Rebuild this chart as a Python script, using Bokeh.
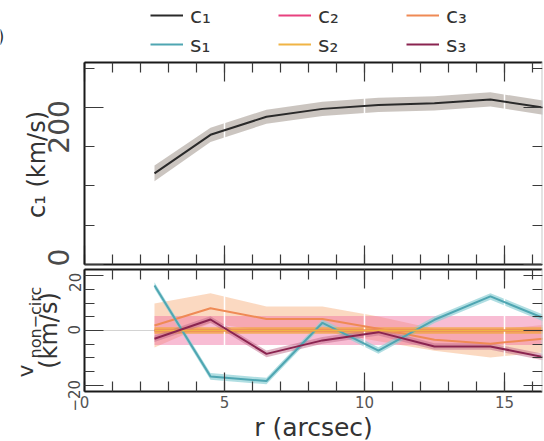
import math

from bokeh.embed import file_html
from bokeh.layouts import column
from bokeh.models import (BoxAnnotation, ColumnDataSource, FixedTicker, Grid,
                          Label, Legend, LegendItem, LinearAxis, Range1d)
from bokeh.plotting import figure
from bokeh.resources import INLINE

FONT = "DejaVu Sans"

# radial bins (arcsec)
r = [2.5, 4.5, 6.5, 8.5, 10.5, 12.5, 14.5, 16.5]

# harmonic coefficients (km/s) with 1-sigma uncertainties
c1 = [116, 165, 188, 198, 203, 205, 210, 199]
c1_err = [10, 9, 9, 9, 9, 9, 9, 9]
c2 = [0, 0, 0, 0, 0, 0, 0, 0]
c2_err = [5.3, 5.3, 5.3, 5.3, 5.3, 5.3, 5.3, 5.3]
c3 = [1.8, 8.1, 4.2, 4.2, 0.6, -3.4, -4.8, -2.9]
c3_err = [8.0, 5.5, 4.5, 4.5, 4.5, 4.0, 5.0, 5.0]
s1 = [16.4, -16.7, -18.4, 2.8, -7.3, 3.9, 12.4, 4.1]
s1_err = [1.2, 1.2, 1.2, 1.2, 1.2, 1.2, 1.2, 1.2]
s2 = [0, 0, 0, 0, 0, 0, 0, 0]
s2_err = [1.2, 1.2, 1.2, 1.2, 1.2, 1.2, 1.2, 1.2]
s3 = [-3.0, 4.0, -8.5, -3.6, -0.6, -5.8, -5.8, -9.9]
s3_err = [1.2, 1.2, 1.2, 1.2, 1.2, 1.2, 1.2, 1.2]

# ticks
x_major = [0, 5, 10, 15]
x_minor = [0, 1, 2, 3, 4, 5, 6, 7, 8, 9, 10, 11, 12, 13, 14, 15, 16, 17]
c1_major = [0, 200]
c1_minor = [0, 50, 100, 150, 200, 250]
v_major = [-20, 0, 20]
v_minor = [-20, -15, -10, -5, 0, 5, 10, 15, 20]

# rotated tick labels end a little above their ticks: anchor value -> text
c1_tick_text = {9: "0", 209: "200"}
v_tick_text = {-18: "\u221220", 2: "0", 21: "20"}

# name, values, errors, line colour, band colour, band alpha
series = {
    "c1": ("c\u2081", c1, c1_err, "#2a2a2a", "#a89f96", 0.6),
    "c2": ("c\u2082", c2, c2_err, "#e8417f", "#ef6d9f", 0.45),
    "c3": ("c\u2083", c3, c3_err, "#ef8a55", "#f7b98e", 0.55),
    "s1": ("s\u2081", s1, s1_err, "#4fa6b2", "#8fd0d6", 0.7),
    "s2": ("s\u2082", s2, s2_err, "#f0b445", "#f3a544", 0.8),
    "s3": ("s\u2083", s3, s3_err, "#8a2450", "#c06a8a", 0.5),
}

TEXT = "#333333"

# page geometry (pixels): each figure's frame fills its canvas, spines sit inside
W = 544
SPINE_L, SPINE_R = 84, 542
X_END = 16.36
PX_X = (SPINE_R - SPINE_L) / X_END
X_RANGE = (-SPINE_L / PX_X, X_END)


def y_window(v0, v1, spine_top, spine_bottom, canvas_h):
    per = (spine_bottom - spine_top) / (v1 - v0)
    return per, (v0 - (canvas_h - spine_bottom) / per, v1 + spine_top / per)


def frame_figure(canvas_h, y_rng):
    p = figure(frame_width=SPINE_R, frame_height=canvas_h,
               x_range=Range1d(*X_RANGE), y_range=Range1d(*y_rng),
               x_axis_location=None, y_axis_location=None,
               output_backend="svg", toolbar_location=None,
               min_border_left=0, min_border_right=W - SPINE_R,
               min_border_top=0, min_border_bottom=0)
    p.center = [c for c in p.center if not isinstance(c, Grid)]
    p.outline_line_color = None
    p.background_fill_color = "white"
    p.border_fill_color = "white"
    return p


def spine(p, side, at, bounds, ticks, minor):
    """Box edge with inward ticks and no labels."""
    ax = LinearAxis(ticker=FixedTicker(ticks=ticks, minor_ticks=minor),
                    fixed_location=at, bounds=bounds)
    ax.axis_line_width = 2
    ax.axis_line_color = "#c8c8c8" if side == "right" else "#1a1a1a"
    ax.major_tick_in = 19
    ax.major_tick_out = 0
    ax.minor_tick_in = 10
    ax.minor_tick_out = 0
    ax.major_tick_line_color = "#3a3a3a"
    ax.minor_tick_line_color = "#3a3a3a"
    ax.major_tick_line_width = 1.2
    ax.minor_tick_line_width = 1.2
    ax.major_label_text_font = FONT
    ax.major_label_text_color = "#555555"
    ax.major_label_overrides = {t: "" for t in ticks}
    ax.major_label_text_font_size = "1px"
    ax.major_label_standoff = 0
    ax.axis_label_text_font = FONT
    ax.axis_label_text_font_style = "normal"
    ax.axis_label_text_color = TEXT
    p.add_layout(ax, side)
    return ax


def box(p, y0, y1, y_major, y_minor):
    xb = (0, X_END)
    yb = (y0, y1)
    axes = {
        "below": spine(p, "below", y0, xb, x_major, x_minor),
        "above": spine(p, "above", y1, xb, x_major, x_minor),
        "left": spine(p, "left", 0, yb, y_major, y_minor),
        "right": spine(p, "right", X_END, yb, y_major, y_minor),
    }
    p.add_layout(Grid(dimension=0, ticker=FixedTicker(ticks=x_major),
                      bounds=yb, grid_line_color="white",
                      grid_line_width=1.5))
    return axes


def label_axis(p, tick_text, size, standoff):
    """Left axis carrying only the rotated tick labels."""
    ticks = sorted(tick_text)
    ax = LinearAxis(ticker=FixedTicker(ticks=ticks, minor_ticks=[]),
                    fixed_location=0)
    ax.axis_line_color = None
    ax.major_tick_line_color = None
    ax.minor_tick_line_color = None
    ax.major_tick_in = 0
    ax.major_tick_out = 0
    ax.minor_tick_in = 0
    ax.minor_tick_out = 0
    ax.major_label_overrides = dict(tick_text)
    ax.major_label_orientation = math.pi / 2
    ax.major_label_text_font = FONT
    ax.major_label_text_font_size = size
    ax.major_label_text_color = "#4a4a4a"
    ax.major_label_standoff = standoff
    p.add_layout(ax, "left")
    return ax


def draw_band(p, key):
    name, vals, errs, color, band, alpha = series[key]
    lo = [v - e for v, e in zip(vals, errs)]
    hi = [v + e for v, e in zip(vals, errs)]
    src = ColumnDataSource(dict(r=r, v=vals, lo=lo, hi=hi))
    p.varea(x="r", y1="lo", y2="hi", source=src, fill_color=band,
            fill_alpha=alpha, level="image")
    return src


def text(p, x_px, y_px, per, y_rng, s, size, align, baseline, angle=0.0):
    """Place a text at a pixel position of a full-canvas frame."""
    x = X_RANGE[0] + x_px / PX_X
    y = y_rng[1] - y_px / per
    p.add_layout(Label(x=x, y=y, text=s, angle=angle, text_align=align,
                       text_baseline=baseline, text_font=FONT,
                       text_font_size=size, text_color=TEXT))


# ---------------- upper panel: circular velocity ----------------
TOP_H = 266
top_per, top_y = y_window(0, 257, 62, 264, TOP_H)
top = frame_figure(TOP_H, top_y)
box(top, 0, 257, c1_major, c1_minor)
label_axis(top, c1_tick_text, "28px", 26)
text(top, 36, 164, top_per, top_y, "c\u2081 (km/s)", "24px", "center",
     "middle", math.pi / 2)

src_c1 = draw_band(top, "c1")
c1_line = top.line("r", "v", source=src_c1, line_color=series["c1"][3],
                   line_width=2)

# legend: c1 uses its drawn line, the other terms hidden stand-ins
legend_items = [LegendItem(label=series["c1"][0], renderers=[c1_line])]
for key in ("c2", "c3", "s1", "s2", "s3"):
    stand_in = top.line(x=r, y=series[key][1], line_color=series[key][3],
                        line_width=2, visible=False)
    legend_items.append(LegendItem(label=series[key][0], renderers=[stand_in]))
top.add_layout(Legend(items=legend_items, location=(150, TOP_H - 57),
                      orientation="horizontal", ncols=3,
                      padding=0, margin=0, spacing=3,
                      glyph_width=33, glyph_height=26,
                      label_height=26, label_width=85, label_standoff=7,
                      label_text_font=FONT, label_text_font_size="22px",
                      label_text_color=TEXT, inactive_fill_alpha=0,
                      border_line_color=None, background_fill_alpha=0),
               "center")

# panel tag, mostly beyond the left edge
text(top, 4, 36, top_per, top_y, "(b)", "17px", "right", "alphabetic")

# ---------------- lower panel: non-circular terms ----------------
BOT_H = 175
bot_per, bot_y = y_window(-22.2, 22.2, 3, 125, BOT_H)
bot = frame_figure(BOT_H, bot_y)
ax_bot = box(bot, -22.2, 22.2, v_major, v_minor)
label_axis(bot, v_tick_text, "15px", 10)

xb = ax_bot["below"]
xb.major_label_overrides = {}
xb.major_label_text_font_size = "15px"
xb.major_label_standoff = 4
xb.axis_label = "r (arcsec)"
xb.axis_label_text_font_size = "25px"
xb.axis_label_standoff = 2

# zero reference line across the panel
bot.add_layout(BoxAnnotation(left=0, right=X_END, bottom=-0.12, top=0.12,
                             fill_color="#a8a8a8", fill_alpha=1,
                             line_color=None, level="image"))

sources = {}
for key in ("c3", "c2", "s1", "s2", "s3"):
    sources[key] = draw_band(bot, key)
for key in ("c2", "c3", "s1", "s2", "s3"):
    bot.line("r", "v", source=sources[key], line_color=series[key][3],
             line_width=2)

# two-line y title: v with a "non-circ" subscript, then the unit
text(bot, 25, 111, bot_per, bot_y, "v", "22px", "left", "alphabetic",
     math.pi / 2)
text(bot, 35, 92, bot_per, bot_y, "non\u2212circ", "16px", "left",
     "alphabetic", math.pi / 2)
text(bot, 48, 64, bot_per, bot_y, "(km/s)", "24px", "center", "middle",
     math.pi / 2)

layout = column(top, bot, spacing=0)
open("out.html", "w").write(file_html(layout, INLINE))
